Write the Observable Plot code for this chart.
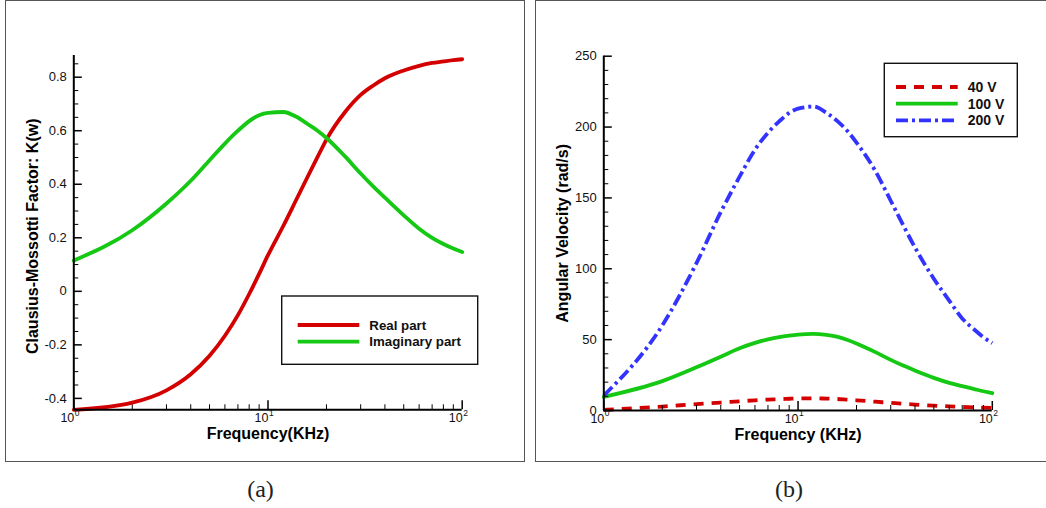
<!DOCTYPE html>
<html><head><meta charset="utf-8">
<script src="https://cdn.jsdelivr.net/npm/d3@7"></script>
<script src="https://cdn.jsdelivr.net/npm/@observablehq/plot@0.6"></script>
<style>
body{margin:0;background:#fff;}
#root{position:relative;width:1046px;height:508px;overflow:hidden;background:#fff;font-family:"Liberation Sans",Arial,sans-serif;}
.frame{position:absolute;border:1.5px solid #555;box-sizing:border-box;}
.panel{position:absolute;top:0;}
#overlay{position:absolute;left:0;top:0;}
</style></head><body><div id="root"></div>
<script>
// ---------- data ----------
const freq      = [1,2,3,4,5,6,7,8,9,10,12,14,16,18,20,25,30,35,40,50,60,70,80,90,100];
const realPart  = [-0.443,-0.416,-0.37,-0.31,-0.241,-0.166,-0.089,-0.01,0.065,0.135,0.245,0.343,0.428,0.502,0.567,0.671,0.734,0.77,0.796,0.825,0.8425,0.853,0.859,0.864,0.867];
const imagPart  = [0.115,0.228,0.328,0.413,0.49,0.552,0.6,0.636,0.658,0.667,0.67,0.652,0.625,0.6,0.573,0.503,0.44,0.39,0.35,0.284,0.234,0.2,0.177,0.16,0.147];
const omega40V  = [0.5,2.8,4.5,5.6,6.5,7.2,7.7,8.0,8.3,8.5,8.6,8.4,8.1,7.6,7.2,6.2,5.4,4.7,4.2,3.4,2.9,2.5,2.2,2.0,1.8];
const omega100V = [9.6,20.7,30.5,38,43.9,47.7,50.2,51.8,52.8,53.5,54,53.3,52,49.8,47.3,41.2,35.7,31.5,28.2,23,19.5,17.2,15.3,13.6,12.2];
const omega200V = [10.6,60,104,140,165,184,196,204,210,213,214.5,210,204,197,189,169,148,130,115,93,77.6,65,57.6,51.7,47.5];

const xMajorTicks = [1,10,100];
const xExponents  = ["0","1","2"];
const xMinorTicks = [2,3,4,5,6,7,8,9,20,30,40,50,60,70,80,90];

const yMajorA  = [-0.4,-0.2,0,0.2,0.4,0.6,0.8];
const yLabelsA = ["-0.4","-0.2","0","0.2","0.4","0.6","0.8"];
const yMinorA  = [-0.35,-0.3,-0.25,-0.15,-0.1,-0.05,0.05,0.1,0.15,0.25,0.3,0.35,0.45,0.5,0.55,0.65,0.7,0.75,0.85];
const yDomainA = [-0.4426,0.881];

const yMajorB  = [0,50,100,150,200,250];
const yLabelsB = ["0","50","100","150","200","250"];
const yMinorB  = [10,20,30,40,60,70,80,90,110,120,130,140,160,170,180,190,210,220,230,240];
const yDomainB = [0,250];

const seriesA = [
  {name:"Real part", values: realPart, color:"#d40000", dash:null},
  {name:"Imaginary part", values: imagPart, color:"#14c814", dash:null}
];
const seriesB = [
  {name:"40 V", values: omega40V, color:"#d40000", dash:"10,8"},
  {name:"100 V", values: omega100V, color:"#14c814", dash:null},
  {name:"200 V", values: omega200V, color:"#3333ff", dash:"12,4,3,4"}
];

// ---------- panel builder ----------
function panel({width, height, margin, yDomain, yMajor, yMinor, yLabels, xTitle, yTitle, yTitleDy, series}) {
  const innerW = width - margin.left - margin.right;
  const innerH = height - margin.top - margin.bottom;
  const lineMarks = series.map(s => Plot.line(freq.map((f,i)=>({f, v:s.values[i]})), {
    x:"f", y:"v", stroke:s.color, strokeWidth:3.8, curve:"monotone-x",
    strokeDasharray: s.dash || undefined,
    strokeLinecap: s.dash ? "butt" : "round"
  }));
  return Plot.plot({
    width, height,
    marginLeft: margin.left, marginRight: margin.right, marginTop: margin.top, marginBottom: margin.bottom,
    x: {type:"log", domain:[1,100], axis:null},
    y: {domain:yDomain, axis:null},
    style: {background:"transparent", fontFamily:"'Liberation Sans', Arial, sans-serif", color:"black", overflow:"visible"},
    marks: [
      ...lineMarks,
      Plot.ruleY(yMinor, {y:d=>d, insetRight: innerW-5, stroke:"black", strokeWidth:1}),
      Plot.ruleY(yMajor, {y:d=>d, insetRight: innerW-8.5, stroke:"black", strokeWidth:1.5}),
      Plot.ruleX(xMinorTicks, {x:d=>d, insetTop: innerH-5, stroke:"black", strokeWidth:1}),
      Plot.ruleX(xMajorTicks, {x:d=>d, insetTop: innerH-9, stroke:"black", strokeWidth:1.5}),
      Plot.ruleX([1], {x:d=>d, stroke:"black", strokeWidth:2}),
      Plot.ruleY([yDomain[0]], {y:d=>d, stroke:"black", strokeWidth:2}),
      Plot.text(yMajor, {y:d=>d, text:(d,i)=>yLabels[i], frameAnchor:"left", textAnchor:"end", lineAnchor:"middle", dx:-7, fontSize:13, fill:"#111"}),
      Plot.text(xMajorTicks, {x:d=>d, text:()=>"10", frameAnchor:"bottom", textAnchor:"end", lineAnchor:"middle", dx:0.5, dy:8.5, fontSize:12.5, fill:"#111"}),
      Plot.text(xMajorTicks, {x:d=>d, text:(d,i)=>xExponents[i], frameAnchor:"bottom", textAnchor:"start", lineAnchor:"middle", dx:1, dy:3, fontSize:8.5, fill:"#111"}),
      Plot.text([xTitle], {text:d=>d, frameAnchor:"bottom", textAnchor:"middle", lineAnchor:"middle", dy:24.5, fontSize:16, fontWeight:"bold", fill:"black"}),
      Plot.text([yTitle], {text:d=>d, frameAnchor:"left", textAnchor:"middle", lineAnchor:"middle", rotate:-90, dx:-41, dy:yTitleDy, fontSize:16, fontWeight:"bold", fill:"black"})
    ]
  });
}

const root = document.getElementById("root");

// frames
function frame(left, top, w, h) {
  const d = document.createElement("div");
  d.className = "frame";
  Object.assign(d.style, {left:left+"px", top:top+"px", width:w+"px", height:h+"px"});
  root.appendChild(d);
}
frame(4.5, -0.5, 520, 462.3);
frame(535, -0.5, 530, 462.3);

const plotA = panel({
  width:530, height:461, margin:{left:73.3, right:68.3, top:55, bottom:51.7},
  yDomain:yDomainA, yMajor:yMajorA, yMinor:yMinorA, yLabels:yLabelsA,
  xTitle:"Frequency(KHz)", yTitle:"Clausius-Mossotti Factor: K(w)", yTitleDy:3.6, series:seriesA
});
plotA.classList.add("panel"); plotA.style.left = "0px";
root.appendChild(plotA);

const plotB = panel({
  width:516, height:461, margin:{left:73.3, right:54.2, top:55.7, bottom:51},
  yDomain:yDomainB, yMajor:yMajorB, yMinor:yMinorB, yLabels:yLabelsB,
  xTitle:"Frequency (KHz)", yTitle:"Angular Velocity (rad/s)", yTitleDy:0, series:seriesB
});
plotB.classList.add("panel"); plotB.style.left = "530px";
root.appendChild(plotB);

// ---------- legends & captions overlay ----------
const svg = d3.select(root).append("svg").attr("id","overlay").attr("width",1046).attr("height",508)
  .style("pointer-events","none");

function legend(box, items, lx1, lx2, tx, ys, fontSize) {
  const g = svg.append("g");
  g.append("rect").attr("x",box[0]).attr("y",box[1]).attr("width",box[2]).attr("height",box[3])
    .attr("fill","white").attr("stroke","#111").attr("stroke-width",1.4);
  items.forEach((s,i) => {
    g.append("line").attr("x1",lx1).attr("x2",lx2).attr("y1",ys[i]).attr("y2",ys[i])
      .attr("stroke",s.color).attr("stroke-width",3.8)
      .attr("stroke-dasharray", s.dash || null).attr("stroke-linecap","butt");
    g.append("text").attr("x",tx).attr("y",ys[i]).attr("dy","0.36em")
      .attr("font-family","'Liberation Sans', Arial, sans-serif").attr("font-weight","bold")
      .attr("font-size",fontSize).attr("fill","#111").text(s.name);
  });
}
legend([281.7,296,196,68.3], seriesA, 297.7, 359.3, 369.3, [325,341.7], 13.3);
legend([884.3,63.3,133,73.4], seriesB, 896, 957.7, 967.7, [87,103.7,120.3], 14);

const captions = ["(a)","(b)"];
const captionX = [260.5, 789];
captions.forEach((c,i) => {
  svg.append("text").attr("x",captionX[i]).attr("y",497).attr("text-anchor","middle")
    .attr("font-family","'Liberation Serif', 'DejaVu Serif', serif").attr("font-size",24)
    .attr("fill","#222").text(c);
});
</script></body></html>
